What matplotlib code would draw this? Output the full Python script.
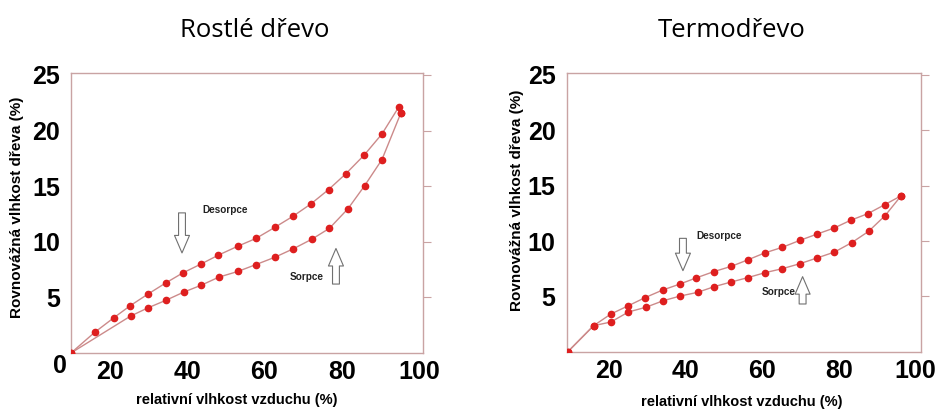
import matplotlib.pyplot as plt

# Rostlé dřevo (natural wood)
rw_des_x = [10, 16.1, 21.0, 25.3, 29.9, 34.5, 38.9, 43.6, 48.1, 53.1, 57.8, 62.7, 67.4, 72.0, 76.6, 81.0, 85.8, 90.4, 94.7, 95.3]
rw_des_y = [0, 1.85, 3.15, 4.25, 5.3, 6.3, 7.2, 8.0, 8.8, 9.6, 10.3, 11.3, 12.3, 13.4, 14.7, 16.1, 17.8, 19.7, 22.1, 21.6]
rw_sor_x = [10, 25.4, 29.9, 34.6, 39.1, 43.7, 48.2, 53.1, 57.8, 62.7, 67.4, 72.2, 76.8, 81.6, 85.9, 90.4, 95.3]
rw_sor_y = [0, 3.32, 4.06, 4.75, 5.47, 6.1, 6.82, 7.33, 7.95, 8.61, 9.36, 10.22, 11.21, 12.97, 15.04, 17.4, 21.6]

# Termodřevo (thermally modified wood)
tw_des_x = [9.4, 16.1, 20.6, 25.2, 29.5, 34.1, 38.6, 42.8, 47.4, 52.0, 56.4, 60.7, 65.3, 69.9, 74.4, 78.8, 83.1, 87.6, 92.0, 96.3]
tw_des_y = [0, 2.35, 3.4, 4.16, 4.88, 5.57, 6.11, 6.66, 7.23, 7.71, 8.31, 8.92, 9.43, 10.06, 10.63, 11.17, 11.87, 12.47, 13.28, 14.09]
tw_sor_x = [9.4, 16.1, 20.6, 25.2, 29.7, 34.3, 38.7, 43.2, 47.5, 52.0, 56.3, 60.8, 65.3, 69.9, 74.3, 78.9, 83.4, 87.8, 92.1, 96.3]
tw_sor_y = [0, 2.35, 2.68, 3.59, 4.01, 4.61, 5.03, 5.36, 5.87, 6.3, 6.69, 7.14, 7.5, 7.95, 8.46, 9.0, 9.85, 10.87, 12.29, 14.09]

titles = ['Rostlé dřevo', 'Termodřevo']
x_ticks = [20, 40, 60, 80, 100]
y_ticks = [5, 10, 15, 20, 25]
xlab = 'relativní vlhkost vzduchu (%)'
ylab = 'Rovnovážná vlhkost dřeva (%)'

line_col = '#cc8a8a'
dot_col = '#de1f1f'
frame_col = '#c9a3a3'
bold = dict(fontweight='bold', family='Liberation Sans')

fig = plt.figure(figsize=(9.4, 4.11), dpi=100)
ax1 = fig.add_axes([0.0755, 0.1411, 0.3745, 0.6813])
ax2 = fig.add_axes([0.6029, 0.1443, 0.3766, 0.6773])

panels = [
    (ax1, rw_des_x, rw_des_y, rw_sor_x, rw_sor_y, (10, 101), 25.18),
    (ax2, tw_des_x, tw_des_y, tw_sor_x, tw_sor_y, (9.1, 101.4), 25.15),
]

for ax, dx, dy, sx, sy, xl, ytop in panels:
    ax.plot(dx, dy, color=line_col, lw=1.0, zorder=2)
    ax.plot(sx, sy, color=line_col, lw=1.0, zorder=2)
    ax.plot(dx, dy, 'o', color=dot_col, ms=4.5, zorder=3)
    ax.plot(sx, sy, 'o', color=dot_col, ms=4.5, zorder=3)
    ax.set_xlim(*xl)
    ax.set_ylim(0, ytop)
    ax.set_xticks(x_ticks)
    ax.set_yticks(y_ticks)
    ax.set_xticklabels([str(t) for t in x_ticks], fontsize=18, **bold)
    ax.set_yticklabels([str(t) for t in y_ticks], fontsize=18, **bold)
    ax.tick_params(axis='x', length=0, pad=5)
    ax.tick_params(axis='y', which='both', left=False, right=True, length=6,
                   color=frame_col, pad=2)
    for sp in ax.spines.values():
        sp.set_color(frame_col)
        sp.set_linewidth(1.0)

ax1.text(0.47, -0.168, xlab, transform=ax1.transAxes, fontsize=10.5, ha='center', va='center', **bold)
ax1.text(-0.153, 0.52, ylab, transform=ax1.transAxes, fontsize=11, rotation=90,
         ha='center', va='center', **bold)
ax2.text(0.494, -0.18, xlab, transform=ax2.transAxes, fontsize=10.5, ha='center', va='center', **bold)
ax2.text(-0.141, 0.545, ylab, transform=ax2.transAxes, fontsize=11, rotation=90,
         ha='center', va='center', **bold)

ax1.text(-0.031, -0.046, '0', transform=ax1.transAxes, fontsize=18,
         ha='center', va='center', **bold)

fig.text(0.271, 0.927, titles[0], fontsize=18.5, family='Open Sans', ha='center', va='center')
fig.text(0.778, 0.927, titles[1], fontsize=18.5, family='Open Sans', ha='center', va='center')

arrow_style = 'simple,head_width=1.2,head_length=1.4,tail_width=0.55'
arrow_props = dict(arrowstyle=arrow_style, fc='white', ec='#707070', lw=0.8,
                   mutation_scale=9, shrinkA=0, shrinkB=0)

# Desorpce / Sorpce markers
ax1.annotate('', xy=(38.7, 9.0), xytext=(38.7, 12.6), arrowprops=arrow_props)
ax1.text(43.9, 12.9, 'Desorpce', fontsize=7.2, ha='left', va='center', color='#222222', **bold)
ax1.annotate('', xy=(78.5, 9.4), xytext=(78.5, 6.2), arrowprops=arrow_props)
ax1.text(71, 6.85, 'Sorpce', fontsize=7.2, ha='center', va='center', color='#222222', **bold)

ax2.annotate('', xy=(39.4, 7.32), xytext=(39.4, 10.24), arrowprops=arrow_props)
ax2.text(43, 10.48, 'Desorpce', fontsize=7.2, ha='left', va='center', color='#222222', **bold)
ax2.annotate('', xy=(70.6, 6.78), xytext=(70.6, 4.31), arrowprops=arrow_props)
ax2.text(68.9, 5.42, 'Sorpce', fontsize=7.2, ha='right', va='center', color='#222222', **bold)

plt.savefig('out.png', dpi=100)
